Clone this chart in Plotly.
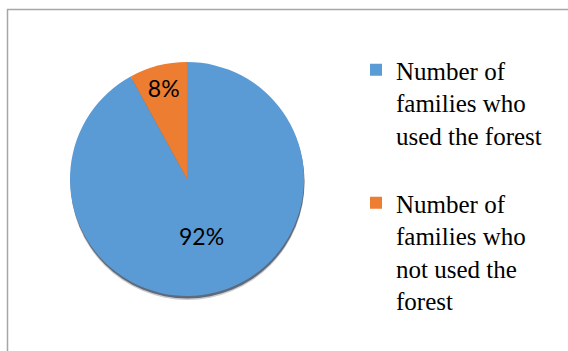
import plotly.graph_objects as go

labels = ["Number of<br>families who<br>used the forest<br> ",
          "Number of<br>families who<br>not used the<br>forest"]
values = [92, 8]
text_labels = ["92%", "8%"]
colors = ["#5b9bd5", "#ed7d31"]

W, H = 568, 351
cx, cy, r = 187, 179, 117


def dom(dx=0, dy=0, rr=r):
    return dict(x=[(cx + dx - rr) / W, (cx + dx + rr) / W],
                y=[(H - cy - dy - rr) / H, (H - cy - dy + rr) / H])


fig = go.Figure()
# soft drop shadow under the pie
for dy, col in [(4, "rgba(0,0,0,0.2)"), (2.5, "rgba(20,40,70,0.6)")]:
    fig.add_trace(go.Pie(
        labels=["shadow"], values=[sum(values)], textinfo="none",
        marker=dict(colors=[col], line=dict(width=0)),
        domain=dom(0.5, dy), showlegend=False, hoverinfo="none", sort=False,
    ))
fig.add_trace(go.Pie(
    labels=labels, values=values, text=text_labels,
    textinfo="text", textposition="inside", insidetextorientation="horizontal",
    textfont=dict(family="Lato", size=23, color="black"),
    marker=dict(colors=colors, line=dict(width=0)),
    sort=False, direction="clockwise", rotation=0,
    domain=dom(), hoverinfo="none",
))
fig.update_layout(
    width=W, height=H, margin=dict(l=0, r=0, t=0, b=0),
    paper_bgcolor="white", plot_bgcolor="white",
    showlegend=True,
    legend=dict(x=356 / W, y=(H - 47) / H, xanchor="left", yanchor="top",
                font=dict(family="Liberation Serif", size=25, color="black"),
                valign="top", itemwidth=30, tracegroupgap=0, bgcolor="rgba(0,0,0,0)"),
    shapes=[dict(type="rect", xref="paper", yref="paper",
                 x0=7.5 / W, x1=1.2, y0=(H - 9.5) / H, y1=-0.2,
                 line=dict(color="#a6a6a6", width=1.5), layer="above")],
)
fig.write_html("out.html")
